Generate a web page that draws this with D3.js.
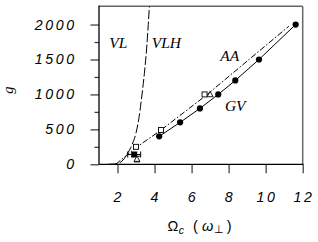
<!DOCTYPE html>
<html><head><meta charset="utf-8">
<script src="https://cdn.jsdelivr.net/npm/d3@7"></script>
<style>
html,body{margin:0;padding:0;background:#fff;}
svg{display:block;}
.tick-lab{font-family:"Liberation Sans",Arial,sans-serif;font-style:italic;font-size:14.2px;letter-spacing:2.6px;fill:#000;}
.reg{font-family:"Liberation Serif","Times New Roman",serif;font-style:italic;font-size:15.5px;fill:#000;}
</style></head>
<body>
<svg id="c" width="318" height="242"></svg>
<script>
// ---- data ----
const xTicks = [2, 4, 6, 8, 10, 12];
const yTicks = [0, 500, 1000, 1500, 2000];
const yMinorTicks = [250, 750, 1250, 1750];
// GV: filled circles with solid line
const gvX = [4.25, 5.38, 6.45, 7.44, 8.36, 9.64, 11.62];
const gvY = [400, 600, 800, 1000, 1200, 1500, 2000];
// AA: dash-dot boundary line
const aaX = [1.9, 3.0, 4.3, 6.8, 11.25];
const aaY = [0, 240, 480, 990, 1975];
// VL / VLH boundary (long dashes)
const vlX = [1.5, 2.0, 2.3, 2.55, 2.8, 3.0, 3.15, 3.3, 3.45, 3.57, 3.66, 3.72];
const vlY = [0, 10, 60, 160, 290, 450, 650, 950, 1300, 1650, 2000, 2262];
// open squares
const sqX = [3.0, 4.35, 6.7];
const sqY = [250, 490, 1000];
// open triangles
const triX = [3.05, 7.0];
const triY = [75, 1000];
const triErr = [40, 0];
// filled square with horizontal error bar
const fsqX = [2.9];
const fsqY = [140];
const fsqErr = [0.35];
// region labels
const regLabels = ["VL", "VLH", "AA", "GV"];
const regX = [1.55, 3.85, 7.55, 7.8];
const regY = [1660, 1660, 1480, 760];

// ---- layout ----
const svg = d3.select("#c");
const L = 99, R = 302.7, T = 6.3, B = 164.3;
const x = d3.scaleLinear().domain([1, 12]).range([L, R]);
const y = d3.scaleLinear().domain([0, 2261]).range([B, T]);

svg.append("defs").append("clipPath").attr("id","clip")
  .append("rect").attr("x",L).attr("y",T).attr("width",R-L).attr("height",B-T);

// frame: top/right gray
svg.append("line").attr("x1",L).attr("x2",R).attr("y1",T).attr("y2",T).attr("stroke","#666").attr("stroke-width",1.5);
svg.append("line").attr("x1",R).attr("x2",R).attr("y1",T).attr("y2",B).attr("stroke","#666").attr("stroke-width",1.5);

// y axis
const yAx = svg.append("g").attr("transform",`translate(${L},0)`)
  .call(d3.axisLeft(y).tickValues(yTicks).tickSize(8.5).tickFormat(""));
const yAxm = svg.append("g").attr("transform",`translate(${L},0)`)
  .call(d3.axisLeft(y).tickValues(yMinorTicks).tickSize(4.5).tickFormat(""));
[yAx, yAxm].forEach(g => { g.select(".domain").remove(); g.selectAll("line").attr("stroke","#444").attr("stroke-width",1.3); });
svg.append("line").attr("x1",L).attr("x2",L).attr("y1",T-0.7).attr("y2",B).attr("stroke","#000").attr("stroke-width",1.3);

svg.selectAll(".ylab").data(yTicks).enter().append("text")
  .attr("class","tick-lab").attr("text-anchor","end")
  .attr("x", 76.8).attr("y", d => y(d) + 5).text(d => d);

// x axis
const xAx = svg.append("g").attr("transform",`translate(0,${B})`)
  .call(d3.axisBottom(x).tickValues(xTicks).tickSize(9).tickFormat(""));
xAx.select(".domain").remove();
xAx.selectAll("line").attr("stroke","#444").attr("stroke-width",1.3);
svg.append("line").attr("x1",L).attr("x2",R+0.7).attr("y1",B).attr("y2",B).attr("stroke","#000").attr("stroke-width",1.3);

svg.selectAll(".xlab").data(xTicks).enter().append("text")
  .attr("class","tick-lab").attr("text-anchor","middle")
  .attr("x", d => x(d) + 1.3).attr("y", 202).text(d => d);

// axis titles
svg.append("text").attr("transform","translate(13,90) rotate(-90)")
  .attr("text-anchor","middle")
  .style("font-family","'Liberation Serif',serif").style("font-style","italic").style("font-size","14.5px")
  .text("g");

const xt = svg.append("text").attr("x",167.5).attr("y",231)
  .style("font-family","'Liberation Sans',Arial,sans-serif").style("font-size","14.5px");
xt.append("tspan").text("Ω");
xt.append("tspan").attr("dy",2.5).attr("dx",0.5).style("font-style","italic").style("font-size","10.5px").text("c");
xt.append("tspan").attr("dy",-2.5).attr("dx",9).text("(");
xt.append("tspan").attr("dx",4).style("font-style","italic").text("ω");
xt.append("tspan").attr("dy",2).attr("dx",0.5).style("font-size","10.5px").text("⊥");
xt.append("tspan").attr("dy",-2).attr("dx",3).text(")");

// plot content
const plot = svg.append("g").attr("clip-path","url(#clip)");
const line = d3.line().x(d => x(d[0])).y(d => y(d[1]));

plot.append("path").datum(d3.zip(vlX, vlY))
  .attr("d", d3.line().x(d => x(d[0])).y(d => y(d[1])).curve(d3.curveMonotoneX))
  .attr("fill","none").attr("stroke","#000").attr("stroke-width",1)
  .attr("stroke-dasharray","9,2.5");

plot.append("path").datum(d3.zip(aaX, aaY))
  .attr("d", line).attr("fill","none").attr("stroke","#000").attr("stroke-width",1)
  .attr("stroke-dasharray","6,2,1.5,2");

plot.append("path").datum(d3.zip(gvX, gvY))
  .attr("d", line).attr("fill","none").attr("stroke","#000").attr("stroke-width",1);

plot.selectAll(".gv").data(d3.zip(gvX, gvY)).enter().append("circle")
  .attr("cx", d => x(d[0])).attr("cy", d => y(d[1])).attr("r", 3.1).attr("fill","#000");

// filled square with error bar
const fs = d3.zip(fsqX, fsqY, fsqErr);
plot.selectAll(".fse").data(fs).enter().append("path")
  .attr("d", d => `M${x(d[0]-d[2])},${y(d[1])}H${x(d[0]+d[2])}M${x(d[0]-d[2])},${y(d[1])-3}V${y(d[1])+3}M${x(d[0]+d[2])},${y(d[1])-3}V${y(d[1])+3}`)
  .attr("stroke","#000").attr("stroke-width",1).attr("fill","none");
plot.selectAll(".fs").data(fs).enter().append("rect")
  .attr("x", d => x(d[0]) - 3).attr("y", d => y(d[1]) - 3).attr("width",6).attr("height",6).attr("fill","#000");

// open squares
plot.selectAll(".sq").data(d3.zip(sqX, sqY)).enter().append("rect")
  .attr("x", d => x(d[0]) - 2.5).attr("y", d => y(d[1]) - 2.5).attr("width",5).attr("height",5)
  .attr("fill","#fff").attr("stroke","#000").attr("stroke-width",0.9);

// open triangles with vertical error bars
const tr = d3.zip(triX, triY, triErr);
plot.selectAll(".tre").data(tr.filter(d => d[2] > 0)).enter().append("path")
  .attr("d", d => `M${x(d[0])-3},${y(d[1]+d[2])}H${x(d[0])+3}M${x(d[0])},${y(d[1]+d[2])}V${y(d[1]-d[2])}M${x(d[0])-3},${y(d[1]-d[2])}H${x(d[0])+3}`)
  .attr("stroke","#000").attr("stroke-width",1).attr("fill","none");
plot.selectAll(".tr").data(tr).enter().append("path")
  .attr("d", d => `M${x(d[0])},${y(d[1])-3}L${x(d[0])+3},${y(d[1])+2.3}L${x(d[0])-3},${y(d[1])+2.3}Z`)
  .attr("fill","#fff").attr("stroke","#000").attr("stroke-width",0.9);

// region labels
svg.selectAll(".reg").data(d3.zip(regLabels, regX, regY)).enter().append("text")
  .attr("class","reg").attr("x", d => x(d[1])).attr("y", d => y(d[2])).text(d => d[0]);
</script>
</body></html>
